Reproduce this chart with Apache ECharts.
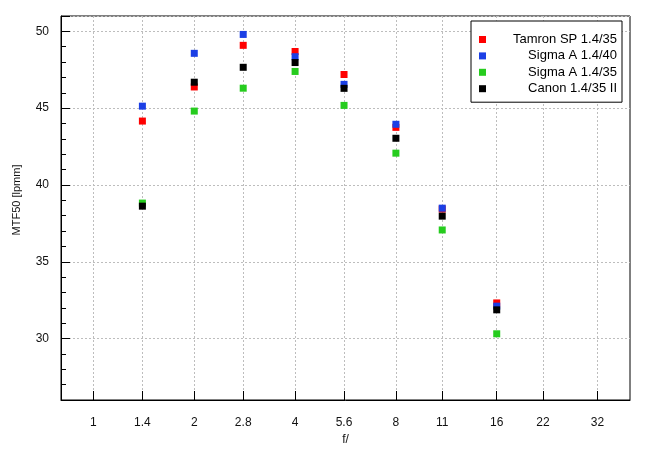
<!DOCTYPE html>
<html>
<head>
<meta charset="utf-8">
<script src="https://cdn.jsdelivr.net/npm/echarts@6/dist/echarts.min.js"></script>
<style>
html,body{margin:0;padding:0;background:#fff;}
#chart{width:655px;height:455px;}
</style>
</head>
<body>
<div id="chart"></div>
<script>
// f-numbers (x categories on a log axis)
var apertures = [1.4, 2, 2.8, 4, 5.6, 8, 11, 16];
var xTickValues = [1, 1.4, 2, 2.8, 4, 5.6, 8, 11, 16, 22, 32];

var seriesNames = ['Tamron SP 1.4/35', 'Sigma A 1.4/40', 'Sigma A 1.4/35', 'Canon 1.4/35 II'];
var tamron   = [44.16, 46.38, 49.09, 48.69, 47.19, 43.75, 38.43, 32.32];
var sigma40  = [45.13, 48.57, 49.80, 48.35, 46.55, 43.95, 38.49, 32.11];
var sigma35  = [38.82, 44.81, 46.30, 47.39, 45.18, 42.07, 37.07, 30.31];
var canon    = [38.62, 46.69, 47.66, 47.97, 46.29, 43.04, 37.97, 31.87];

var colors = ['#ff0000', '#1b3fe5', '#26cc1e', '#000000'];
var allValues = [tamron, sigma40, sigma35, canon];

function pairs(vals) {
  return apertures.map(function (a, i) { return [a, vals[i]]; });
}

var FONT = '"Liberation Sans", Arial, sans-serif';
var chart = echarts.init(document.getElementById('chart'), null, {renderer: 'canvas'});

var option = {
  animation: false,
  backgroundColor: '#fff',
  textStyle: {fontFamily: FONT},
  grid: {
    left: 61, top: 16, right: 25, bottom: 55,
    show: true, borderColor: '#000', borderWidth: 1,
    containLabel: false
  },
  legend: {
    orient: 'vertical',
    left: 471, top: 21,
    backgroundColor: '#fff',
    borderColor: '#000', borderWidth: 1,
    padding: [12, 5, 7, 8],
    itemGap: 3.4,
    itemWidth: 7, itemHeight: 7,
    icon: 'rect',
    data: seriesNames,
    formatter: '{a|{name}}',
    textStyle: {
      fontFamily: FONT, fontSize: 13, color: '#000',
      rich: {a: {width: 126, align: 'right', fontSize: 13, lineHeight: 14, fontFamily: FONT, color: '#000'}}
    }
  },
  xAxis: {
    type: 'log',
    logBase: 2,
    min: 0.8,
    max: 40,
    name: 'f/',
    nameLocation: 'middle',
    nameGap: 34,
    nameTextStyle: {fontFamily: FONT, fontSize: 12, color: '#111'},
    axisLine: {show: true, lineStyle: {color: '#000', width: 1}},
    axisTick: {show: true, inside: true, length: 9, customValues: xTickValues, lineStyle: {color: '#000'}},
    axisLabel: {
      customValues: xTickValues,
      margin: 17,
      fontFamily: FONT, fontSize: 12, color: '#111',
      formatter: function (v) { return String(v); }
    },
    splitLine: {show: true, lineStyle: {color: '#bdbdbd', type: [2, 2], width: 1}},
    minorTick: {show: false},
    minorSplitLine: {show: false}
  },
  yAxis: {
    type: 'value',
    min: 26,
    max: 51,
    splitNumber: 5,
    name: 'MTF50 [lpmm]',
    nameLocation: 'middle',
    nameGap: 39,
    nameTextStyle: {fontFamily: FONT, fontSize: 11, color: '#111', padding: [0, 0, 0, 16]},
    axisLine: {show: true, lineStyle: {color: '#000', width: 1}},
    axisTick: {show: true, inside: true, length: 9, lineStyle: {color: '#000'}},
    minorTick: {show: true, splitNumber: 5, length: 5, lineStyle: {color: '#000'}},
    axisLabel: {
      showMinLabel: false, showMaxLabel: false,
      margin: 12,
      fontFamily: FONT, fontSize: 12, color: '#111'
    },
    splitLine: {show: true, lineStyle: {color: '#bdbdbd', type: [2, 2], width: 1}}
  },
  series: seriesNames.map(function (name, i) {
    return {
      name: name,
      type: 'scatter',
      symbol: 'rect',
      symbolSize: 7,
      itemStyle: {color: colors[i], opacity: 1},
      data: pairs(allValues[i]),
      z: 2 + i
    };
  })
};
chart.setOption(option);
</script>
</body>
</html>
